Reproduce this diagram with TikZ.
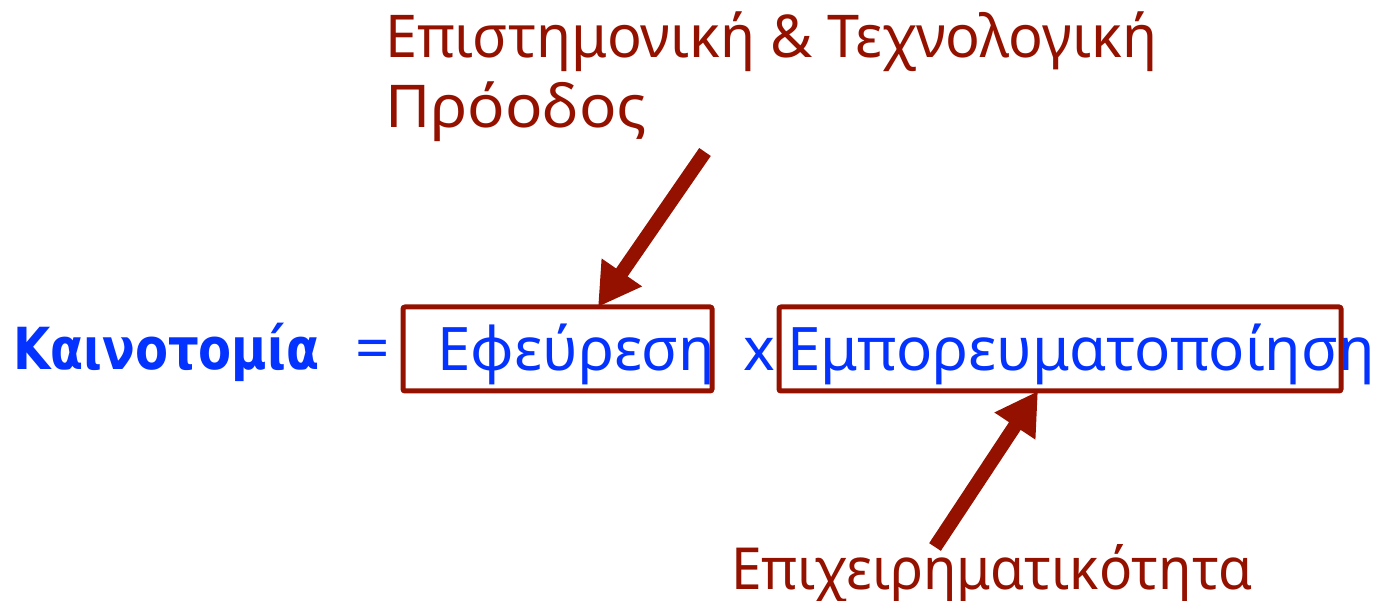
\documentclass[tikz,border=0pt]{standalone}
\usepackage{fontspec}
\setmainfont{Noto Sans}
\newfontfamily\kfont{DejaVu Sans}
\usetikzlibrary{arrows.meta}
\definecolor{dred}{RGB}{148,17,0}
\definecolor{eblue}{RGB}{4,51,255}
\tikzset{
  lbl/.style={anchor=base west, inner sep=0pt, text=dred, font=\fontsize{59}{65}\selectfont},
  eq/.style={anchor=base west, inner sep=0pt, text=eblue, font=\fontsize{60}{65}\selectfont},
  frame/.style={draw=dred, line width=5pt, rounded corners=2pt, inner sep=0pt},
  bigarrow/.style={draw=dred, line width=14pt, -{Triangle[length=42pt,width=46pt]}}
}
\begin{document}
\begin{tikzpicture}[x=1pt,y=-1pt]
\useasboundingbox (0,0) rectangle (1376,601);
\node[frame, minimum width=309pt, minimum height=84pt] (box1) at (557.5,349) {};
\node[frame, minimum width=562pt, minimum height=84pt] (box2) at (1060,349) {};
\node[lbl] (prog) at (385,58) {\resizebox{772pt}{\height}{Επιστημονική \& Τεχνολογική}};
\node[lbl] (prog2) at (385,128) {\resizebox{262pt}{\height}{Πρόοδος}};
\node[eq, font=\fontsize{58}{65}\kfont\bfseries] (kain) at (13,370) {\resizebox{306pt}{\height}{Καινοτομία}};
\node[eq] (equals) at (355,370) {=};
\node[eq] (efeur) at (437,371) {Εφεύρεση};
\node[eq] (times) at (743,371) {x};
\node[eq] (empor) at (787,371) {Εμπορευματοποίηση};
\node[lbl, font=\fontsize{58}{65}\selectfont] (epix) at (731,589) {\resizebox{521pt}{\height}{Επιχειρηματικότητα}};
\coordinate (s1) at (705,152);
\coordinate (t1) at (598,307);
\coordinate (s2) at (935,547);
\coordinate (t2) at (1038,391);
\draw[bigarrow] (s1) -- (t1);
\draw[bigarrow] (s2) -- (t2);
\end{tikzpicture}
\end{document}
